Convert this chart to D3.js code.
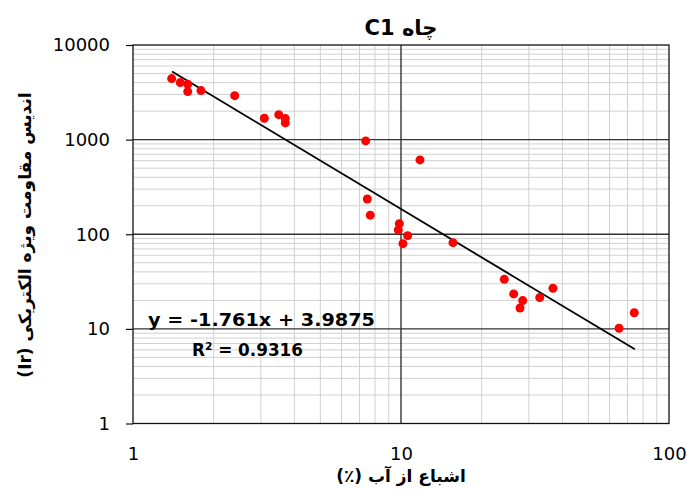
<!DOCTYPE html>
<html><head><meta charset="utf-8">
<script src="https://cdn.jsdelivr.net/npm/d3@7"></script>
<style>body{margin:0;background:#fff}svg{display:block}</style>
</head><body>
<svg id="c" width="687" height="490"></svg>
<script>
const saturation = [1.394,1.501,1.600,1.600,1.793,2.396,3.090,3.498,3.701,3.701,7.385,7.487,7.68,9.856,9.77,10.59,10.17,11.77,15.63,24.29,26.33,28.45,27.8,32.93,36.9,65.1,74.2];
const resistivityIndex = [4416,4008,3855,3216,3296,2917,1684,1837,1667,1502,969,236,159,129.5,111,96.6,79.6,610,81.5,33.4,23.4,19.9,16.6,21.4,26.9,10.15,14.8];
const trendX = [1.398, 74.6];
const trendY = [5236, 6.08];
const xTicks = [1,10,100];
const yTicks = [1,10,100,1000,10000];
const title = "چاه C1";
const xTitle = "اشباع از آب (٪)";
const yTitle = "اندیس مقاومت ویژه الکتریکی (Ir)";
const eqText = "y = -1.761x + 3.9875";
const r2Text = "R² = 0.9316";

const svg = d3.select("#c");
const L=133, R=669, T=45, B=423.5;
const x = d3.scaleLog().domain([1,100]).range([L,R]);
const y = d3.scaleLog().domain([1,10000]).range([B,T]);

const g = svg.append("g");
const xMinor = x.ticks().filter(v=>!xTicks.includes(v));
const yMinor = y.ticks().filter(v=>!yTicks.includes(v));
g.selectAll(".xm").data(xMinor).enter().append("line")
 .attr("x1",d=>x(d)).attr("x2",d=>x(d)).attr("y1",T).attr("y2",B)
 .attr("stroke","#d0d0d0").attr("stroke-width",1);
g.selectAll(".ym").data(yMinor).enter().append("line")
 .attr("y1",d=>y(d)).attr("y2",d=>y(d)).attr("x1",L).attr("x2",R)
 .attr("stroke","#d0d0d0").attr("stroke-width",1);
g.selectAll(".xM").data(xTicks.slice(1,-1)).enter().append("line")
 .attr("x1",d=>x(d)).attr("x2",d=>x(d)).attr("y1",T).attr("y2",B)
 .attr("stroke","#111").attr("stroke-width",1.2);
g.selectAll(".yM").data(yTicks.slice(1,-1)).enter().append("line")
 .attr("y1",d=>y(d)).attr("y2",d=>y(d)).attr("x1",L).attr("x2",R)
 .attr("stroke","#333").attr("stroke-width",1.3);
g.append("rect").attr("x",L).attr("y",T).attr("width",R-L).attr("height",B-T)
 .attr("fill","none").attr("stroke","#111").attr("stroke-width",1.3);

const yAxis = d3.axisLeft(y).tickValues(yTicks).tickFormat(d3.format("d")).tickSize(7).tickPadding(16);
const ya = svg.append("g").attr("transform",`translate(${L},0)`).call(yAxis);
ya.select(".domain").remove();
ya.selectAll("line").attr("stroke","#111").attr("stroke-width",1.2);
ya.selectAll("text").attr("font-family","DejaVu Sans").attr("font-size",18).attr("fill","#000");

const xAxis = d3.axisBottom(x).tickValues(xTicks).tickFormat(d3.format("d")).tickSize(0).tickPadding(24);
const xa = svg.append("g").attr("transform",`translate(0,${B})`).call(xAxis);
xa.select(".domain").remove();
xa.selectAll("text").attr("font-family","DejaVu Sans").attr("font-size",18).attr("fill","#000");

svg.append("line").attr("x1",x(trendX[0])).attr("y1",y(trendY[0])).attr("x2",x(trendX[1])).attr("y2",y(trendY[1]))
 .attr("stroke","#000").attr("stroke-width",1.8);

svg.selectAll(".pt").data(saturation).enter().append("circle")
 .attr("cx",d=>x(d)).attr("cy",(d,i)=>y(resistivityIndex[i])).attr("r",4.5).attr("fill","#ff0000");

svg.append("text").attr("x",148).attr("y",326).attr("text-anchor","start")
 .attr("textLength",227).attr("lengthAdjust","spacingAndGlyphs")
 .attr("font-family","DejaVu Sans").attr("font-weight","bold").attr("font-size",18).text(eqText);
svg.append("text").attr("x",192).attr("y",356).attr("text-anchor","start")
 .attr("textLength",111).attr("lengthAdjust","spacingAndGlyphs")
 .attr("font-family","DejaVu Sans").attr("font-weight","bold").attr("font-size",18).text(r2Text);

svg.append("text").attr("x",401).attr("y",35).attr("text-anchor","middle").attr("direction","rtl")
 .attr("font-family","DejaVu Sans").attr("font-weight","bold").attr("font-size",21).text(title);
svg.append("text").attr("x",401).attr("y",482).attr("text-anchor","middle").attr("direction","rtl")
 .attr("font-family","DejaVu Sans").attr("font-weight","bold").attr("font-size",17).text(xTitle);
svg.append("text").attr("transform","translate(31,235) rotate(-90)").attr("text-anchor","middle").attr("direction","rtl")
 .attr("font-family","DejaVu Sans").attr("font-weight","bold").attr("font-size",17).text(yTitle);
</script>
</body></html>
